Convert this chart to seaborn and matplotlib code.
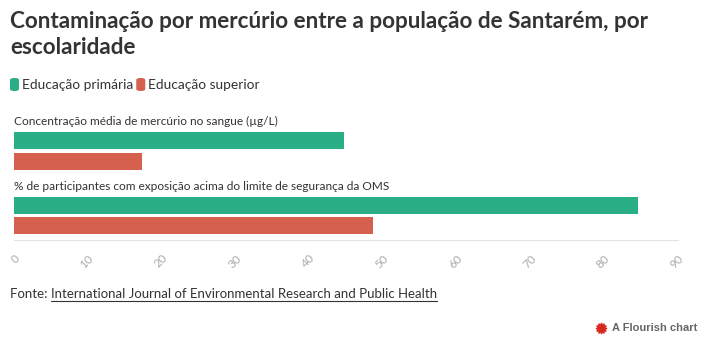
import matplotlib
matplotlib.use("Agg")
import matplotlib.pyplot as plt
import seaborn as sns
import pandas as pd

categories = ["Concentração média de mercúrio no sangue (µg/L)",
              "% de participantes com exposição acima do limite de segurança da OMS"]
series_names = ["Educação primária", "Educação superior"]
primaria = [44.7, 84.6]
superior = [17.3, 48.7]
ticks = [0, 10, 20, 30, 40, 50, 60, 70, 80, 90]
colors = ["#2aae86", "#d6604e"]

df = pd.DataFrame({
    "cat": categories * 2,
    "serie": [series_names[0]] * 2 + [series_names[1]] * 2,
    "valor": primaria + superior,
})

sns.set_style("white")
plt.rcParams["font.family"] = ["Lato", "DejaVu Sans"]

W, H = 703, 340
fig = plt.figure(figsize=(W / 100, H / 100), dpi=100)
ax = fig.add_axes([14 / W, 1 - 240 / H, (678 - 14) / W, 130 / H])

sns.barplot(data=df, y="cat", x="valor", hue="serie", orient="h",
            palette=colors, width=0.636, gap=0.17, ax=ax, legend=False,
            saturation=1, linewidth=0)

ax.set_xlim(0, 90)
ax.set_ylim(1.384, -0.636)
ax.set_xticks(ticks)
ax.set_xticklabels([str(t) for t in ticks], rotation=45, ha="right",
                   rotation_mode="anchor", color="#aaaaaa", fontsize=8.5)
ax.tick_params(axis="x", length=6, width=0.8, color="#e2e2e2", pad=3)
ax.set_yticks([])
ax.set_xlabel("")
ax.set_ylabel("")
for s in ["top", "right", "left"]:
    ax.spines[s].set_visible(False)
ax.spines["bottom"].set_color("#e2e2e2")
ax.spines["bottom"].set_linewidth(0.8)

for i, c in enumerate(categories):
    ax.text(0, i - 0.45, c, va="center", ha="left", fontsize=8.6,
            color="#333333")

# Title
fig.text(10 / W, 1 - 22 / H, "Contaminação por mercúrio entre a população de Santarém, por",
         fontsize=16.2, fontweight="bold", color="#333333", va="center", ha="left")
fig.text(10 / W, 1 - 48 / H, "escolaridade",
         fontsize=16.2, fontweight="bold", color="#333333", va="center", ha="left")

# Legend
from matplotlib.patches import FancyBboxPatch
lx = 10
for name, col in zip(series_names, colors):
    p = FancyBboxPatch((lx / W, 1 - 91 / H), 9 / W, 13 / H,
                       boxstyle="round,pad=0,rounding_size=0.006",
                       transform=fig.transFigure, facecolor=col, edgecolor="none")
    fig.patches.append(p)
    t = fig.text((lx + 12) / W, 1 - 85 / H, name, fontsize=9.9, color="#333333",
                 va="center", ha="left")
    fig.canvas.draw()
    bb = t.get_window_extent()
    lx = bb.x1 + 3

# Footer
t1 = fig.text(10 / W, 1 - 294 / H, "Fonte: ", fontsize=9.5, color="#333333",
              va="center", ha="left")
fig.canvas.draw()
bb = t1.get_window_extent()
t2 = fig.text(bb.x1 / W, 1 - 294 / H,
              "International Journal of Environmental Research and Public Health",
              fontsize=9.5, color="#333333", va="center", ha="left")
fig.canvas.draw()
bb2 = t2.get_window_extent()
fig.add_artist(plt.Line2D([bb2.x0 / W, bb2.x1 / W], [1 - 301 / H, 1 - 301 / H],
                          transform=fig.transFigure, color="#333333", lw=0.8))

fig.text(697 / W, 1 - 328 / H, "A Flourish chart", fontsize=8.0, fontweight="bold",
         color="#666666", va="center", ha="right",
         family=["Liberation Sans", "DejaVu Sans"])
fig.add_artist(plt.Line2D([601 / W], [1 - 328 / H], marker=(12, 1, 0), markersize=8,
                          color="#d8261c", transform=fig.transFigure, linestyle="none"))

fig.savefig("out.png", dpi=100, facecolor="white")
